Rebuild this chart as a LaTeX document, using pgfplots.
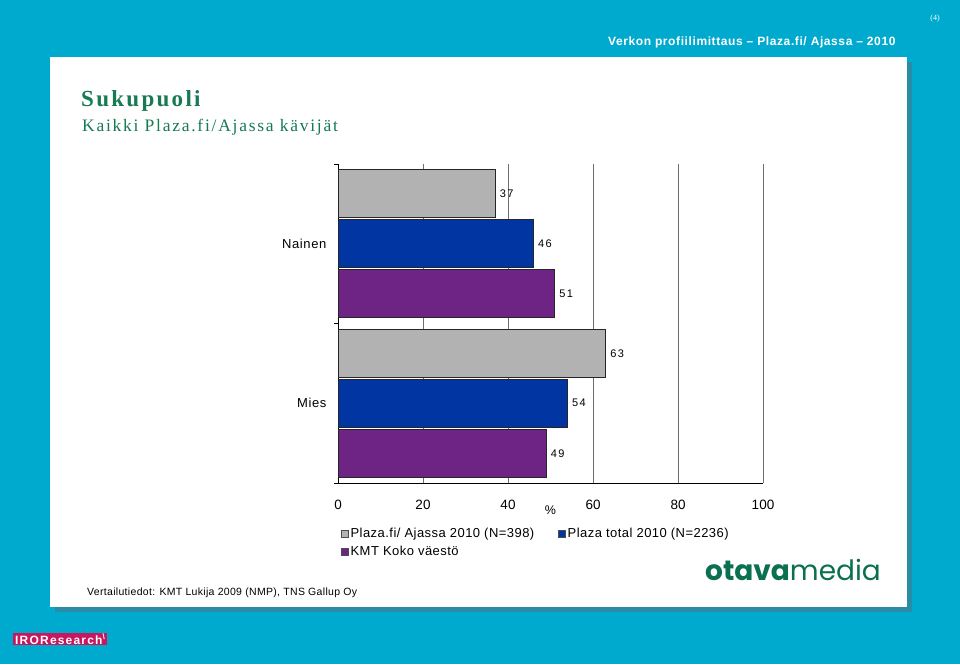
\documentclass[border=0pt]{standalone}
\usepackage{fontspec}
\setmainfont{Liberation Sans}
\newfontfamily\seriffont{Liberation Serif}
\newfontfamily\logofont{Poppins}
\newfontfamily\sA[LetterSpace=5]{Liberation Sans}
\newfontfamily\sLeg[LetterSpace=3.5]{Liberation Sans}
\newfontfamily\sLab[LetterSpace=12]{Liberation Sans}
\newfontfamily\sHead[LetterSpace=5]{Liberation Sans}
\newfontfamily\sTitle[LetterSpace=10]{Liberation Serif}
\newfontfamily\sSub[LetterSpace=10]{Liberation Serif}
\newfontfamily\sFoot[LetterSpace=3]{Liberation Sans}
\newfontfamily\sIro[LetterSpace=10]{Liberation Sans}
\usepackage{pgfplots}
\pgfplotsset{compat=1.18}
\definecolor{bgcyan}{RGB}{0,170,206}
\definecolor{shadowc}{RGB}{42,140,164}
\definecolor{titlegreen}{RGB}{22,122,82}
\definecolor{barGrey}{RGB}{178,178,178}
\definecolor{barBlue}{RGB}{0,53,162}
\definecolor{barPurple}{RGB}{110,36,132}
\definecolor{iro}{RGB}{200,22,95}
\definecolor{otava}{RGB}{10,112,80}
\definecolor{gridc}{RGB}{110,110,110}
\begin{document}
\begin{tikzpicture}[x=1pt,y=1pt]
\fill[bgcyan] (0,0) rectangle (960,664);
\fill[shadowc] (55,52) rectangle (912,602);
\fill[white] (50,57) rectangle (907,607);
\node[anchor=east,text=white,font=\sHead\bfseries\fontsize{12}{14}\selectfont] at (899,622) {Verkon profiilimittaus – Plaza.fi/ Ajassa – 2010};
\node[text=white,font=\seriffont\fontsize{8}{9}\selectfont] at (935,645) {(4)};
\node[anchor=west,text=titlegreen,font=\sTitle\bfseries\fontsize{23}{26}\selectfont,inner sep=0pt] at (81,563) {Sukupuoli};
\node[anchor=west,text=titlegreen,font=\sSub\fontsize{17.5}{20}\selectfont,inner sep=0pt] at (82,537) {Kaikki Plaza.fi/Ajassa kävijät};
\node[anchor=west,font=\sFoot\fontsize{10.5}{12}\selectfont,inner sep=0pt] at (87,71) {Vertailutiedot: KMT Lukija 2009 (NMP), TNS Gallup Oy};
\node[anchor=west,text=otava,font=\logofont\fontsize{28}{30}\selectfont,inner sep=0pt] at (705,94) {\textbf{otava}media};
\node[anchor=west,fill=iro,text=white,font=\sIro\bfseries\fontsize{12}{13}\selectfont,inner xsep=2pt,inner ysep=1.2pt] at (13,25) {IROResearch\textsuperscript{\textbackslash}};
\begin{axis}[
  at={(338pt,181pt)}, anchor=south west,
  scale only axis, width=425pt, height=319pt,
  xbar, bar width=48pt,
  xmin=0, xmax=100, ymin=-0.5, ymax=1.5,
  axis x line*=bottom, axis y line*=left,
  axis line style={-, black, line width=0.8pt},
  xtick={0,20,40,60,80,100},
  xmajorgrids, grid style={gridc, line width=0.9pt},
  x tick style={draw=none},
  x tick label style={yshift=-10pt, font=\fontsize{13.5}{15}\selectfont},
  ytick={-0.5,0.5,1.5}, yticklabels={},
  y tick style={draw=black, line width=0.8pt},
  tick align=outside, major tick length=4pt,
  extra y ticks={0,1}, extra y tick labels={Mies,Nainen},
  extra y tick style={major tick length=0pt, y tick label style={xshift=-8pt}},
  y tick label style={font=\sA\fontsize{13}{15}\selectfont},
  /pgf/number format/assume math mode=true,
  xlabel={\%},
  xlabel style={at={(axis description cs:0.5,-0.085)}, anchor=center, font=\fontsize{12.5}{14}\selectfont},
  nodes near coords,
  every node near coord/.append style={font=\sLab\fontsize{11}{12}\selectfont, anchor=west, xshift=1pt},
  legend columns=2, reverse legend,
  legend cell align=left,
  legend style={at={(axis description cs:0,-0.128)}, anchor=north west, draw=none, fill=none,
    font=\sLeg\fontsize{13}{15}\selectfont, row sep=3pt,
    /tikz/every even column/.append style={column sep=22pt}},
  legend image code/.code={\draw[#1,draw=black!70,line width=0.4pt] (0pt,-3.5pt) rectangle (7pt,3.5pt);},
]
\addplot[fill=barPurple, draw=black!85, line width=0.6pt] coordinates {(49,0) (51,1)};
\addplot[fill=barBlue, draw=black!85, line width=0.6pt] coordinates {(54,0) (46,1)};
\addplot[fill=barGrey, draw=black!85, line width=0.6pt] coordinates {(63,0) (37,1)};
\legend{KMT Koko väestö, Plaza total 2010 (N=2236), Plaza.fi/ Ajassa 2010 (N=398)}
\end{axis}
\end{tikzpicture}
\end{document}
